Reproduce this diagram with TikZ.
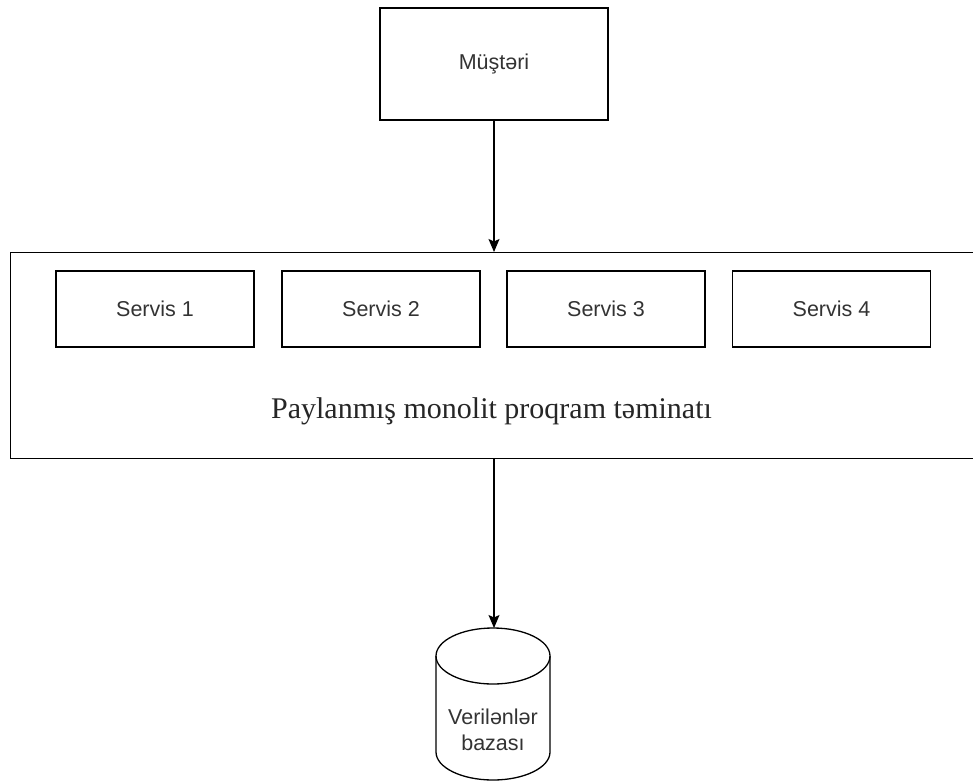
\documentclass[tikz,border=0pt]{standalone}
\usepackage{fontspec}
\setmainfont{Liberation Serif}
\newfontfamily\boxfont{Liberation Sans}
\usetikzlibrary{arrows.meta}
\begin{document}
\begin{tikzpicture}[x=1pt, y=-1pt, line width=1.3pt,
  box/.style={draw, rectangle, inner sep=0pt, font=\boxfont\fontsize{21.5}{26}\selectfont, text=black!80},
  flow/.style={-{Stealth[length=13pt, width=11pt, inset=2.5pt]}}
]
\useasboundingbox (0,0) rectangle (973,781);
\clip (0,0) rectangle (973,781);

% client
\node[box, minimum width=228pt, minimum height=112pt] (client) at (494,64) {Müştəri};

% application container (runs past the right edge)
\node[box, minimum width=980pt, minimum height=206pt, anchor=north west] (app) at (10,252) {};
\node[font=\fontsize{30}{34}\selectfont, text=black!85] (applabel) at (491.5,411) {Paylanmış monolit proqram təminatı};

% services
\node[box, minimum width=198pt, minimum height=76pt] (s1) at (155,309) {Servis 1};
\node[box, minimum width=198pt, minimum height=76pt] (s2) at (381,309) {Servis 2};
\node[box, minimum width=198pt, minimum height=76pt] (s3) at (606,309) {Servis 3};
\node[box, minimum width=198pt, minimum height=76pt] (s4) at (831.5,309) {Servis 4};

% database cylinder
\draw (436,656) -- (436,752) arc[start angle=180, end angle=360, x radius=57pt, y radius=28pt] -- (550,656);
\draw (493,656) ellipse [x radius=57pt, y radius=28pt];
\coordinate (dbtop) at (494,628);
\node[font=\boxfont\fontsize{21.5}{26}\selectfont, text=black!80, align=center] (db) at (493,730) {Verilənlər\\bazası};

% connectors
\draw[flow] (client.south -| 494,0) -- (app.north -| 494,0);
\draw[flow] (app.south -| 494,0) -- (dbtop);
\end{tikzpicture}
\end{document}
